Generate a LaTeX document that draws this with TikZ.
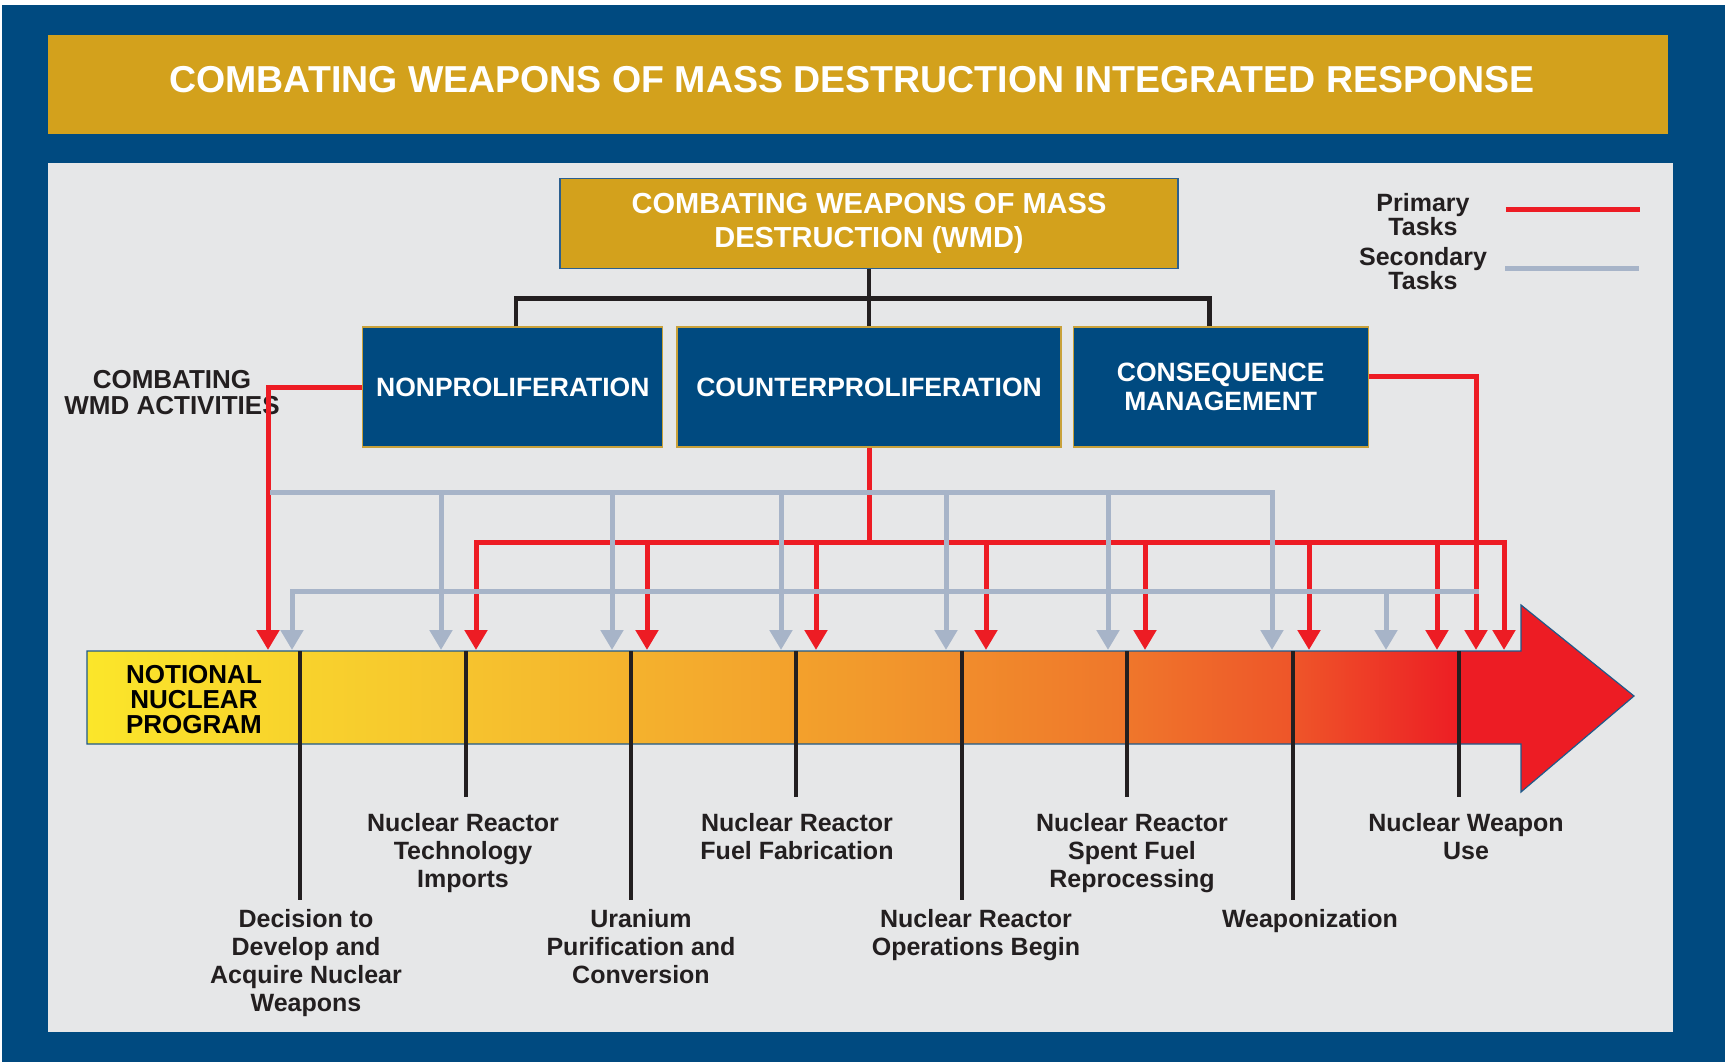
\documentclass[tikz,border=0pt]{standalone}
\usepackage{fontspec}
\setmainfont{Liberation Sans}
\usetikzlibrary{positioning}
\usetikzlibrary{arrows.meta}

\definecolor{navy}{HTML}{004A80}
\definecolor{gold}{HTML}{D3A11C}
\definecolor{panel}{HTML}{E6E7E8}
\definecolor{wmdred}{HTML}{ED1C24}
\definecolor{steel}{HTML}{A7B4C8}
\definecolor{ink}{HTML}{231F20}
\definecolor{boxedge}{HTML}{C8A13A}
\definecolor{wmdedge}{HTML}{2B5F8F}
\definecolor{baredge}{HTML}{1F5A8A}
\definecolor{barY}{HTML}{FBE62A}
\definecolor{barA}{HTML}{F6C42E}
\definecolor{barB}{HTML}{F29A2C}
\definecolor{barC}{HTML}{EF762B}
\definecolor{barD}{HTML}{EE5529}

% yellow to red along the program bar
\pgfdeclarehorizontalshading{nukeshade}{100bp}{color(0bp)=(barY); color(25bp)=(barY);
  color(37bp)=(barA); color(50bp)=(barB); color(58.7bp)=(barC); color(64bp)=(barD);
  color(69.5bp)=(wmdred); color(100bp)=(wmdred)}

\begin{document}
\begin{tikzpicture}[x=1pt, y=-1pt,
  actbox/.style={draw=boxedge, fill=navy, text=white, line width=1.2pt, align=center,
    minimum height=120pt, inner sep=0pt, font=\fontsize{26.5}{29}\selectfont\bfseries},
  primary/.style={draw=wmdred, line width=5pt},
  secondary/.style={draw=steel, line width=5pt},
  headed/.style={-{Triangle[width=22pt,length=20pt]}},
  tree/.style={draw=ink, line width=4.5pt},
  milestone/.style={draw=ink, line width=4.5pt},
  stage/.style={text=ink, align=center, inner sep=0pt, anchor=north,
    font=\fontsize{25}{28}\selectfont\bfseries}]

  \useasboundingbox (0,0) rectangle (1725,1062);
  \fill[white] (0,0) rectangle (1725,1062);
  \fill[navy] (2,5) rectangle (1725,1062);
  \fill[gold] (48,35) rectangle (1668,134);
  \node[text=white, inner sep=0pt, font=\fontsize{37.5}{40}\selectfont\bfseries] (banner) at (852,80)
    {COMBATING WEAPONS OF MASS DESTRUCTION INTEGRATED RESPONSE};
  \fill[panel] (48,163) rectangle (1673,1032);

  % activities
  \node[actbox, minimum width=384pt] (counter) at (869,387) {COUNTERPROLIFERATION};
  \node[actbox, minimum width=300pt] (nonprol) [left=13pt of counter] {NONPROLIFERATION};
  \node[actbox, minimum width=295pt] (conseq) [right=11pt of counter] {CONSEQUENCE\\MANAGEMENT};
  \node[draw=wmdedge, fill=gold, text=white, line width=1.2pt, align=center, inner sep=0pt,
    minimum width=618pt, minimum height=90pt, font=\fontsize{29}{34}\selectfont\bfseries]
    (wmd) [above=57pt of counter] {COMBATING WEAPONS OF MASS\\DESTRUCTION (WMD)};

  \draw[tree] (wmd.south) -- ++(0,29) coordinate (hub);
  \draw[tree] (hub) -- (counter.north);
  \draw[tree] ([xshift=3pt]nonprol.north) |- (hub) -| ([xshift=-11pt]conseq.north);

  \node[stage, font=\fontsize{26}{26}\selectfont\bfseries] (activities) at (172,370)
    {COMBATING\\WMD ACTIVITIES};

  % legend
  \node[stage, font=\fontsize{25}{21}\selectfont\bfseries] (primlbl) at (1423,193) {Primary\\Tasks};
  \node[stage, font=\fontsize{25}{21}\selectfont\bfseries] (seclbl) at (1423,247) {Secondary\\Tasks};
  \draw[primary] ([xshift=36pt,yshift=5pt]primlbl.east) -- ++(134,0);
  \draw[secondary] ([xshift=18pt]seclbl.east) -- ++(134,0);

  % notional program
  \shadedraw[shading=nukeshade, draw=baredge, line width=1.2pt]
    (87,651) -- (1521,651) -- (1521,605) -- (1634,696) -- (1521,792) -- (1521,744) -- (87,744) -- cycle;
  \node[stage, text=black, font=\fontsize{26}{25}\selectfont\bfseries] (program) at (194,665)
    {NOTIONAL\\NUCLEAR\\PROGRAM};

  \foreach \n/\x in {r0/268, r1/476, r2/647, r3/816, r4/986, r5/1145, r6/1309, r7/1437, r8/1476, r9/1504}
    \coordinate (\n) at (\x,650);
  \foreach \n/\x in {g0/292, g1/441, g2/612, g3/781, g4/946, g5/1108, g6/1272, g7/1386}
    \coordinate (\n) at (\x,650);

  % primary tasks
  \draw[primary, headed] (nonprol.west) -| (r0);
  \draw[primary, headed] ([yshift=11pt]conseq.east) -| (r8);
  \draw[primary] (counter.south) -- ++(0,95) coordinate (rbus);
  \draw[primary, headed] (rbus) -| (r1);
  \draw[primary, headed] (rbus) -| (r9);
  \foreach \n in {r2,r3,r4,r5,r6,r7}
    \draw[primary, headed] (\n |- rbus) -- (\n);

  % secondary tasks
  \coordinate (gtop) at (270,492);
  \coordinate (glow) at (1479,591);
  \draw[secondary, headed] (gtop) -| (g6);
  \foreach \n in {g1,g2,g3,g4,g5}
    \draw[secondary, headed] (\n |- gtop) -- (\n);
  \draw[secondary, headed] (glow) -| (g0);
  \draw[secondary, headed] (g7 |- glow) -- (g7);

  % milestones
  \foreach \i/\x/\len in {1/300/249, 2/466/146, 3/631/249, 4/796/146, 5/962/249, 6/1127/146, 7/1293/249, 8/1459/146} {
    \coordinate (m\i) at (\x,651);
    \draw[milestone] (m\i) -- ++(0,\len);
  }
  \node[stage] (decide) at (306,909) {Decision to\\Develop and\\Acquire Nuclear\\Weapons};
  \node[stage] (imports) at (463,813) {Nuclear Reactor\\Technology\\Imports};
  \node[stage] (uranium) at (641,909) {Uranium\\Purification and\\Conversion};
  \node[stage] (fuel) at (797,813) {Nuclear Reactor\\Fuel Fabrication};
  \node[stage] (operate) at (976,909) {Nuclear Reactor\\Operations Begin};
  \node[stage] (spent) at (1132,813) {Nuclear Reactor\\Spent Fuel\\Reprocessing};
  \node[stage] (weaponize) at (1310,909) {Weaponization};
  \node[stage] (use) at (1466,813) {Nuclear Weapon\\Use};
\end{tikzpicture}
\end{document}
